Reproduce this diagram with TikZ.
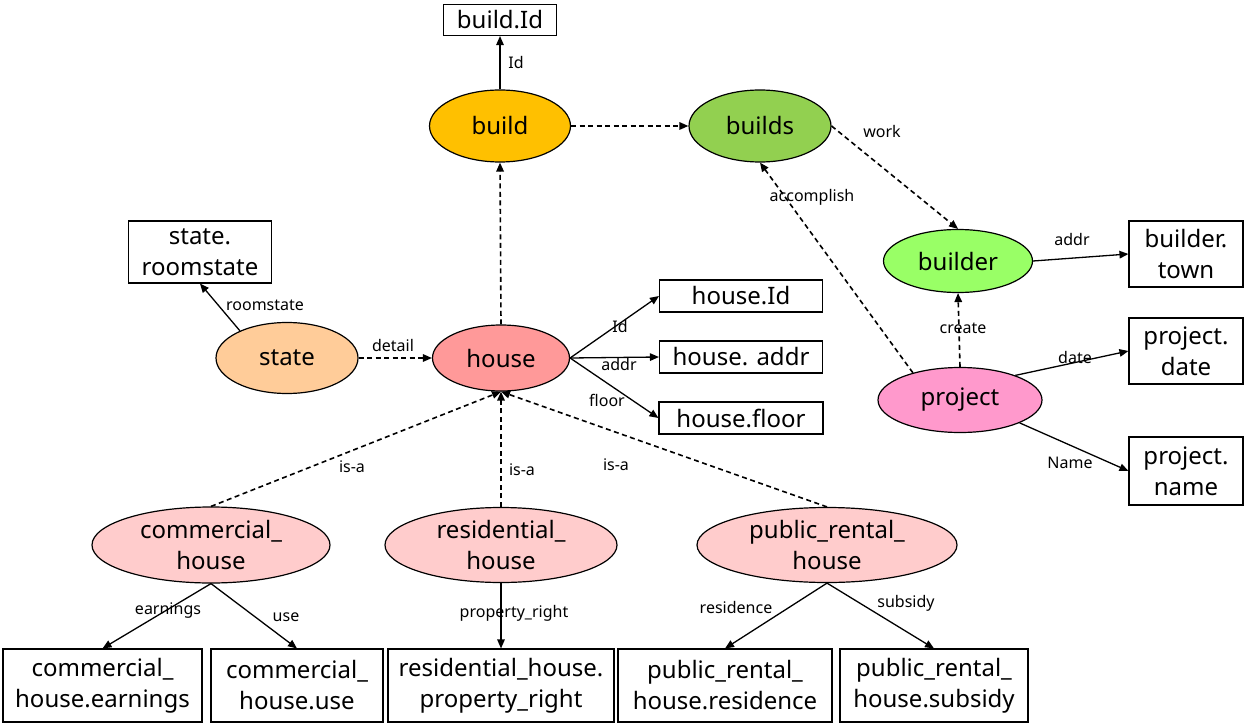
\documentclass[tikz,border=0pt]{standalone}
\usepackage{fontspec}
\setmainfont{Noto Sans}
\usetikzlibrary{arrows.meta,shapes.geometric}
\definecolor{cbuild}{HTML}{FFC000}
\definecolor{cbuilds}{HTML}{92D050}
\definecolor{cbuilder}{HTML}{99FF66}
\definecolor{cproject}{HTML}{FF99CC}
\definecolor{cstate}{HTML}{FFCC99}
\definecolor{chouse}{HTML}{FF9999}
\definecolor{csub}{HTML}{FFCCCC}
\begin{document}
\begin{tikzpicture}[x=1pt,y=-1pt,
  ent/.style={ellipse,draw,line width=1.2pt,inner sep=-4pt,align=center,
    font=\fontsize{24}{31}\selectfont},
  attr/.style={rectangle,draw,line width=1.1pt,inner sep=0pt,align=center,
    font=\fontsize{24}{31}\selectfont},
  lab/.style={inner sep=0pt,font=\fontsize{16}{18}\selectfont},
  solidarrow/.style={line width=1.3pt,-{Triangle[length=9pt,width=7.5pt]}},
  dasharrow/.style={solidarrow,line width=1.6pt,dash pattern=on 5pt off 3.5pt},
]
\useasboundingbox (0,0) rectangle (1246,727);

% entities
\node[ent,fill=cbuild,minimum width=141pt,minimum height=72pt] (build) at (500,126) {build};
\node[ent,fill=cbuilds,minimum width=142pt,minimum height=72pt] (builds) at (760,126) {builds};
\node[ent,fill=cbuilder,minimum width=149pt,minimum height=63pt] (builder) at (958,261) {builder};
\node[ent,fill=cproject,minimum width=164pt,minimum height=65pt] (project) at (960,400) {project};
\node[ent,fill=cstate,minimum width=142pt,minimum height=71pt] (state) at (287,358) {state};
\node[ent,fill=chouse,minimum width=137pt,minimum height=66pt] (house) at (501,358) {house};
\node[ent,fill=csub,minimum width=238pt,minimum height=76pt] (commercial) at (211,545) {commercial\_\\house};
\node[ent,fill=csub,minimum width=232pt,minimum height=75pt] (residential) at (501,545) {residential\_\\house};
\node[ent,fill=csub,minimum width=260pt,minimum height=75pt] (public) at (827,545) {public\_rental\_\\house};

% attributes
\node[attr,minimum width=113pt,minimum height=31pt] (buildId) at (500,20) {build.Id};
\node[attr,minimum width=143pt,minimum height=62pt] (roomstate) at (200,252) {state.\\roomstate};
\node[attr,minimum width=163pt,minimum height=32pt] (houseId) at (741,296) {house.Id};
\node[attr,minimum width=163pt,minimum height=32pt] (houseaddr) at (741,357) {house. addr};
\node[attr,minimum width=164pt,minimum height=32pt] (housefloor) at (741,418) {house.floor};
\node[attr,minimum width=114pt,minimum height=66pt] (buildertown) at (1186,254) {builder.\\town};
\node[attr,minimum width=114pt,minimum height=66pt] (projdate) at (1186,351) {project.\\date};
\node[attr,minimum width=114pt,minimum height=68pt] (projname) at (1186,471) {project.\\name};
\node[attr,minimum width=199pt,minimum height=73pt] (earnings) at (102.5,685.5) {commercial\_\\house.earnings};
\node[attr,minimum width=172pt,minimum height=73pt] (use) at (297,685.5) {commercial\_\\house.use};
\node[attr,minimum width=226pt,minimum height=73pt] (property) at (501,685.5) {residential\_house.\\property\_right};
\node[attr,minimum width=214pt,minimum height=73pt] (residence) at (725,685.5) {public\_rental\_\\house.residence};
\node[attr,minimum width=188pt,minimum height=73pt] (subsidy) at (934,685.5) {public\_rental\_\\house.subsidy};

% connectors
\draw[solidarrow] (build.north) -- (buildId.south);
\draw[dasharrow] (build.east) -- (builds.west);
\draw[dasharrow] (builds.east) -- (builder.north);
\draw[dasharrow] (project.150) -- (builds.south);
\draw[dasharrow] (project.north) -- (builder.south);
\draw[solidarrow] (builder.east) -- (buildertown.west);
\draw[solidarrow] (project.24) -- (projdate.west);
\draw[solidarrow] (project.-21) -- (projname.west);
\draw[solidarrow] (state.150) -- (roomstate.south);
\draw[dasharrow] (state.east) -- (house.west);
\draw[dasharrow] (house.north) -- (build.south);
\draw[solidarrow] (house.east) -- (houseId.west);
\draw[solidarrow] (house.east) -- (houseaddr.west);
\draw[solidarrow] (house.east) -- (housefloor.west);
\draw[dasharrow] (commercial.north) -- (house.south);
\draw[dasharrow] (residential.north) -- (house.south);
\draw[dasharrow] (public.north) -- (house.south);
\draw[solidarrow] (commercial.south) -- (earnings.north);
\draw[solidarrow] (commercial.south) -- (use.north);
\draw[solidarrow] (residential.south) -- (property.north);
\draw[solidarrow] (public.south) -- (residence.north);
\draw[solidarrow] (public.south) -- (subsidy.north);

% labels
\node[lab] (lbid) at (516,63) {Id};
\node[lab] (lwork) at (882,132) {work};
\node[lab] (lacc) at (812,197) {accomplish};
\node[lab] (lbaddr) at (1072,239) {addr};
\node[lab] (lcreate) at (963,328) {create};
\node[lab] (ldate) at (1075,357) {date};
\node[lab] (lname) at (1070,463) {Name};
\node[lab] (lroom) at (265,305) {roomstate};
\node[lab] (ldetail) at (393,345) {detail};
\node[lab] (lhid) at (620,326) {Id};
\node[lab] (lhaddr) at (619,364) {addr};
\node[lab] (lfloor) at (607,400) {floor};
\node[lab] (lisa1) at (352,467) {is-a};
\node[lab] (lisa2) at (522,470) {is-a};
\node[lab] (lisa3) at (616,465) {is-a};
\node[lab] (learn) at (168,611) {earnings};
\node[lab] (luse) at (286,617) {use};
\node[lab] (lprop) at (514,613) {property\_right};
\node[lab] (lres) at (736,607) {residence};
\node[lab] (lsub) at (906,603) {subsidy};
\end{tikzpicture}
\end{document}
